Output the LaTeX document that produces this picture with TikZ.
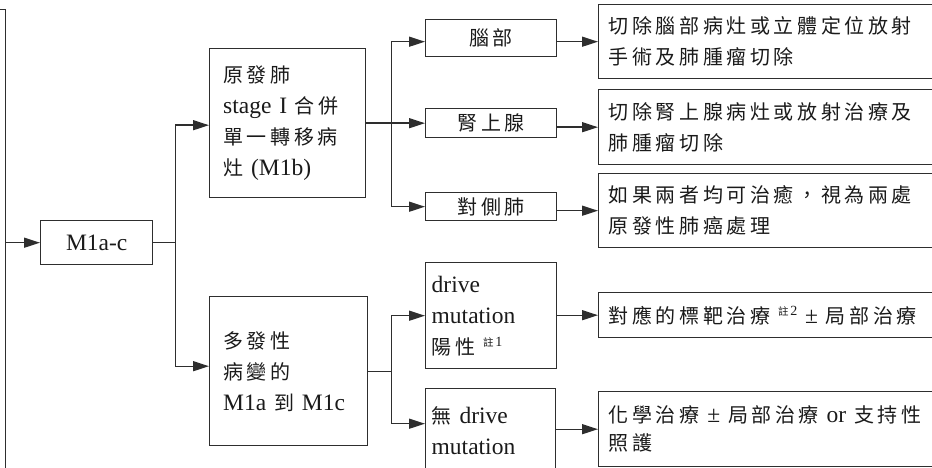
\documentclass[tikz,border=0pt]{standalone}
\usepackage{fontspec}
\setmainfont{Liberation Serif}
\newfontfamily\cjkf[LetterSpace=18]{Noto Sans CJK TC}
\newfontfamily\cjks{Noto Sans CJK TC}
\usetikzlibrary{arrows.meta}
\newcommand\C[1]{{\edef\tmpbs{\the\baselineskip}\fontsize{20}{\tmpbs}\selectfont\cjkf #1}}
\newcommand\Note[2]{\raisebox{8pt}{\fontsize{10.5}{10}\selectfont\cjks #1\,\rmfamily\fontsize{14}{12}\selectfont #2}}
\definecolor{lc}{HTML}{2E2E2E}
\definecolor{tc}{HTML}{1A1A1A}
\begin{document}
\begin{tikzpicture}[x=1pt,y=-1pt,
  box/.style={draw=lc, line width=1.4pt, anchor=north west, text=tc,
    font=\fontsize{23.5}{31}\selectfont, inner xsep=0pt, inner ysep=0pt},
  lbox/.style={box, align=left},
  cbox/.style={box, align=center},
  conn/.style={draw=lc, line width=1.4pt},
  arr/.style={conn, -{Triangle[length=16pt,width=10pt]}}]
\useasboundingbox (0,0) rectangle (932,468);
\clip (0,0) rectangle (932,468);
% clipped box on the left
\node[box, minimum width=40pt, minimum height=480pt] (root) at (-35,9) {};
\node[cbox, minimum width=112pt, minimum height=44pt] (m1ac) at (40,220) {M1a-c};
\node[lbox, minimum width=156pt, minimum height=149pt, text width=147pt] (b1) at (209,48)
  {\hspace*{9pt}\C{原發肺}\\\hspace*{9pt}stage I \C{合併}\\\hspace*{9pt}\C{單一轉移病}\\\hspace*{9pt}\C{灶} (M1b)};
\node[lbox, minimum width=158pt, minimum height=149pt, text width=149pt] (b2) at (209,296)
  {\hspace*{9pt}\C{多發性}\\\hspace*{9pt}\C{病變的}\\\hspace*{9pt}M1a \C{到} M1c};
\node[cbox, minimum width=131pt, minimum height=37pt] (brain) at (425,19) {\C{腦部}};
\node[cbox, minimum width=131pt, minimum height=29pt] (adr) at (425,108) {\C{腎上腺}};
\node[cbox, minimum width=131pt, minimum height=28pt] (contra) at (425,192) {\C{對側肺}};
\node[lbox, minimum width=131pt, minimum height=106pt, text width=131pt] (drive) at (425,262)
  {\hspace*{6pt}drive\\\hspace*{6pt}mutation\\\hspace*{6pt}\C{陽性} \Note{註}{1}};
\node[lbox, minimum width=130pt, minimum height=84pt, text width=130pt] (nodrive) at (425,388)
  {\hspace*{6pt}\C{無} drive\\\hspace*{6pt}mutation};
\node[lbox, minimum width=350pt, minimum height=74pt, text width=350pt] (r1) at (598,4)
  {\hspace*{10pt}\C{切除腦部病灶或立體定位放射}\\\hspace*{10pt}\C{手術及肺腫瘤切除}};
\node[lbox, minimum width=350pt, minimum height=75pt, text width=350pt] (r2) at (598,89)
  {\hspace*{10pt}\C{切除腎上腺病灶或放射治療及}\\\hspace*{10pt}\C{肺腫瘤切除}};
\node[lbox, minimum width=350pt, minimum height=74pt, text width=350pt] (r3) at (598,173)
  {\hspace*{10pt}\C{如果兩者均可治癒，視為兩處}\\\hspace*{10pt}\C{原發性肺癌處理}};
\node[lbox, minimum width=350pt, minimum height=45pt, text width=350pt] (r4) at (598,292)
  {\hspace*{10pt}\C{對應的標靶治療} \Note{註}{2} ± \C{局部治療}};
\node[lbox, minimum width=350pt, minimum height=75pt, text width=350pt,
  font=\fontsize{23.5}{28}\selectfont] (r5) at (598,391)
  {\hspace*{10pt}\C{化學治療} ± \C{局部治療} or \C{支持性}\\\hspace*{10pt}\C{照護}};
% connectors
\draw[arr] (root.east |- m1ac.west) -- (m1ac.west);
\draw[conn] (m1ac.east) -- ++(22,0) coordinate (j1);
\draw[arr] (j1) |- ([yshift=-2pt]b1.west);
\draw[arr] (j1) |- ([yshift=5pt]b2.west);
\draw[conn] (b1.east) -- ++(25,0) coordinate (j2);
\draw[arr] (j2) |- (brain.west |- r1.west);
\draw[arr] (j2) |- (adr.west);
\draw[arr] (j2) |- (contra.west);
\draw[arr] (r1.west -| brain.east) -- (r1.west);
\draw[arr] (r2.west -| adr.east) -- (r2.west);
\draw[arr] (r3.west -| contra.east) -- (r3.west);
\draw[conn] (b2.east) -- ++(23,0) coordinate (j3);
\draw[arr] (j3) |- (drive.west);
\draw[arr] (j3) |- ([yshift=7pt]nodrive.west);
\draw[arr] (r4.west -| drive.east) -- (r4.west);
\draw[arr] (r5.west -| nodrive.east) -- (r5.west);
\end{tikzpicture}
\end{document}
